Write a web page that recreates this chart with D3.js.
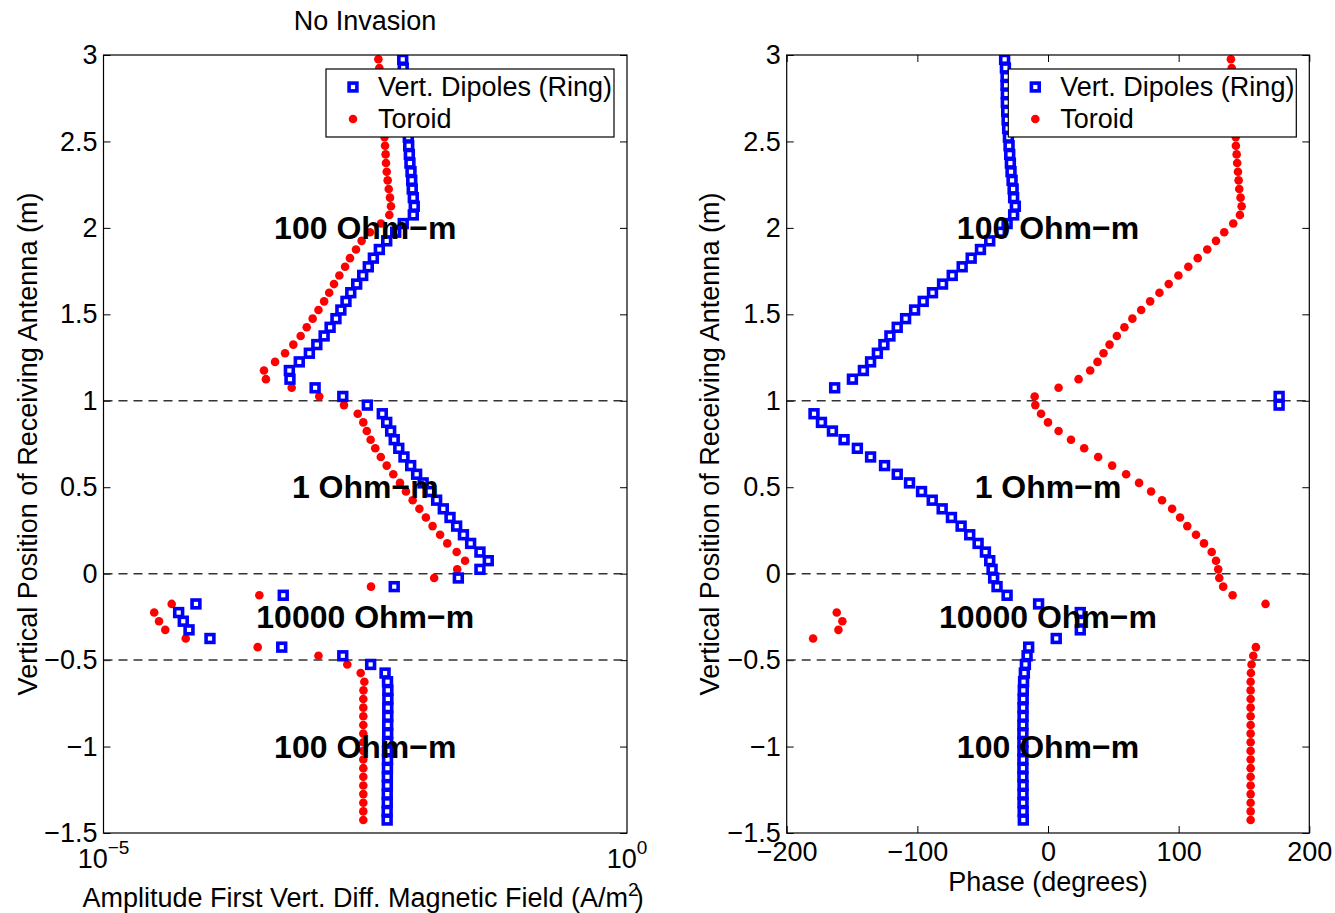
<!DOCTYPE html>
<html>
<head>
<meta charset="utf-8">
<script src="https://cdn.jsdelivr.net/npm/d3@7"></script>
<style>
  body { margin: 0; background: #fff; }
  svg { display: block; font-family: "Liberation Sans", Arial, Helvetica, sans-serif; }
</style>
</head>
<body>
<svg id="chart" width="1335" height="913"></svg>
<script>
// receiver positions (m)
const depths = [2.975, 2.925, 2.875, 2.825, 2.775, 2.725, 2.675, 2.625, 2.575, 2.525,
  2.475, 2.425, 2.375, 2.325, 2.275, 2.225, 2.175, 2.125, 2.075, 2.025,
  1.975, 1.925, 1.875, 1.825, 1.775, 1.725, 1.675, 1.625, 1.575, 1.525,
  1.475, 1.425, 1.375, 1.325, 1.275, 1.225, 1.175, 1.125, 1.075, 1.025,
  0.975, 0.925, 0.875, 0.825, 0.775, 0.725, 0.675, 0.625, 0.575, 0.525,
  0.475, 0.425, 0.375, 0.325, 0.275, 0.225, 0.175, 0.125, 0.075, 0.025,
  -0.025, -0.075, -0.125, -0.175, -0.225, -0.275, -0.325, -0.375, -0.425, -0.475,
  -0.525, -0.575, -0.625, -0.675, -0.725, -0.775, -0.825, -0.875, -0.925, -0.975,
  -1.025, -1.075, -1.125, -1.175, -1.225, -1.275, -1.325, -1.375, -1.425];

// amplitude (A/m^2)
const ringAmp = [7.21e-3, 7.29e-3, 7.41e-3, 7.53e-3, 7.64e-3, 7.74e-3, 7.87e-3, 7.98e-3, 8.09e-3, 8.15e-3,
  8.22e-3, 8.34e-3, 8.45e-3, 8.65e-3, 8.79e-3, 8.89e-3, 9.10e-3, 9.29e-3, 9.10e-3, 7.29e-3,
  6.18e-3, 5.07e-3, 4.31e-3, 3.78e-3, 3.38e-3, 2.99e-3, 2.62e-3, 2.30e-3, 2.07e-3, 1.85e-3,
  1.66e-3, 1.46e-3, 1.28e-3, 1.09e-3, 9.25e-4, 7.41e-4, 5.96e-4, 6.04e-4, 1.05e-3, 1.93e-3,
  3.31e-3, 4.60e-3, 5.07e-3, 5.53e-3, 5.98e-3, 6.61e-3, 7.41e-3, 8.59e-3, 9.79e-3, 1.13e-2,
  1.31e-2, 1.52e-2, 1.76e-2, 2.04e-2, 2.36e-2, 2.74e-2, 3.21e-2, 3.94e-2, 4.73e-2, 3.94e-2,
  2.45e-2, 5.98e-3, 5.21e-4, 7.64e-5, 5.22e-5, 5.78e-5, 6.56e-5, 1.04e-4, 5.04e-4, 1.93e-3,
  3.56e-3, 4.89e-3, 5.16e-3, 5.20e-3, 5.20e-3, 5.19e-3, 5.19e-3, 5.18e-3, 5.18e-3, 5.17e-3,
  5.16e-3, 5.16e-3, 5.15e-3, 5.14e-3, 5.14e-3, 5.13e-3, 5.13e-3, 5.12e-3, 5.12e-3];

const toroidAmp = [4.22e-3, 4.31e-3, 4.38e-3, 4.47e-3, 4.57e-3, 4.62e-3, 4.68e-3, 4.72e-3, 4.78e-3, 4.83e-3,
  4.89e-3, 4.95e-3, 4.99e-3, 5.07e-3, 5.18e-3, 5.30e-3, 5.45e-3, 5.57e-3, 5.37e-3, 4.47e-3,
  3.51e-3, 2.92e-3, 2.58e-3, 2.26e-3, 2.03e-3, 1.79e-3, 1.59e-3, 1.43e-3, 1.28e-3, 1.13e-3,
  9.95e-4, 8.73e-4, 7.64e-4, 6.50e-4, 5.42e-4, 4.35e-4, 3.41e-4, 3.56e-4, 6.27e-4, 1.15e-3,
  1.98e-3, 2.68e-3, 3.03e-3, 3.27e-3, 3.56e-3, 3.94e-3, 4.45e-3, 5.07e-3, 5.86e-3, 6.79e-3,
  7.74e-3, 8.97e-3, 1.04e-2, 1.20e-2, 1.39e-2, 1.64e-2, 1.92e-2, 2.36e-2, 2.84e-2, 2.39e-2,
  1.44e-2, 3.59e-3, 3.08e-4, 4.48e-5, 3.05e-5, 3.39e-5, 3.89e-5, 6.10e-5, 2.97e-4, 1.13e-3,
  2.13e-3, 2.86e-3, 3.10e-3, 3.04e-3, 3.03e-3, 3.03e-3, 3.03e-3, 3.03e-3, 3.03e-3, 3.03e-3,
  3.03e-3, 3.03e-3, 3.03e-3, 3.03e-3, 3.03e-3, 3.03e-3, 3.03e-3, 3.03e-3, 3.03e-3];

// phase (degrees)
const ringPhase = [-33.2, -32.6, -32.1, -32.1, -31.9, -31.9, -31.6, -31.3, -30.9, -30.3,
  -29.8, -29.3, -28.8, -28.3, -27.5, -26.7, -26.3, -25.0, -26.3, -31.3,
  -36.4, -44.6, -51.7, -58.8, -65.7, -73.3, -80.7, -88.4, -95.5, -102.1,
  -109.0, -115.4, -121.0, -125.6, -130.6, -135.8, -141.3, -149.7, -163.3, 176.9,
  176.9, -179.1, -173.4, -165.0, -156.1, -145.9, -135.8, -125.1, -115.4, -106.0,
  -96.8, -88.6, -81.0, -73.9, -66.5, -59.9, -53.5, -47.9, -44.6, -42.8,
  -41.6, -39.0, -31.3, -7.2, 24.7, 25.4, 24.7, 6.3, -14.8, -16.0,
  -17.3, -18.1, -18.7, -18.9, -19.0, -19.1, -19.1, -19.2, -19.2, -19.2,
  -19.2, -19.2, -19.2, -19.2, -19.1, -19.1, -19.1, -19.0, -18.9];

const toroidPhase = [140.0, 140.6, 141.2, 141.6, 142.0, 142.4, 142.8, 143.1, 143.4, 143.7,
  143.8, 144.4, 144.8, 145.4, 145.9, 146.4, 147.4, 148.2, 146.9, 141.8,
  134.9, 128.6, 121.9, 114.6, 107.4, 99.8, 92.4, 85.3, 78.2, 71.3,
  64.6, 58.5, 52.7, 47.1, 42.5, 37.9, 32.3, 23.4, 8.1, -10.2,
  -9.7, -5.3, 0.0, 8.1, 17.6, 27.7, 38.4, 49.1, 59.8, 69.7,
  78.9, 87.3, 95.0, 101.1, 106.6, 113.3, 119.4, 125.3, 128.6, 130.3,
  131.1, 134.1, 141.3, 166.5, -161.7, -157.4, -160.4, -179.8, 159.1, 157.1,
  155.8, 155.3, 155.1, 155.1, 155.1, 155.1, 155.1, 155.1, 155.1, 155.1,
  155.1, 155.1, 155.1, 155.1, 155.1, 155.1, 155.1, 155.1, 155.1];

// layer boundaries and layer labels
const boundaries = [1, 0, -0.5];
const layerLabels = ["100 Ohm−m", "1 Ohm−m", "10000 Ohm−m", "100 Ohm−m"];
const layerLabelDepths = [2, 0.5, -0.25, -1];

const yTicks = [-1.5, -1, -0.5, 0, 0.5, 1, 1.5, 2, 2.5, 3];
const phaseTicks = [-200, -100, 0, 100, 200];
const ampTickExponents = [-5, 0];
const seriesNames = ["Vert. Dipoles (Ring)", "Toroid"];

const svg = d3.select("#chart");
const FONT = 27;
const TOP = 55, BOTTOM = 833;
const minus = (s) => String(s).replace("-", "−");

const y = d3.scaleLinear().domain([-1.5, 3]).range([BOTTOM, TOP]);

/**
 * Draws one panel: frame, ticks, boundaries, markers, layer text, legend
 */
function drawPanel(x, ringVals, toroidVals, labelX, opts) {
  const [x0, x1] = x.range();
  const g = svg.append("g");

  // clip to the axes box
  const clipId = "clip-" + opts.name;
  g.append("clipPath").attr("id", clipId)
    .append("rect").attr("x", x0).attr("y", TOP)
    .attr("width", x1 - x0).attr("height", BOTTOM - TOP);

  // y axis on both sides, ticks inward
  g.append("g").attr("transform", `translate(${x0},0)`)
    .call(d3.axisLeft(y).tickValues(yTicks).tickSizeInner(-7).tickSizeOuter(0)
      .tickPadding(6).tickFormat(minus));
  g.append("g").attr("transform", `translate(${x1},0)`)
    .call(d3.axisRight(y).tickValues(yTicks).tickSizeInner(-7).tickSizeOuter(0)
      .tickFormat(""));

  if (opts.xTicks) {
    g.append("g").attr("transform", `translate(0,${BOTTOM})`)
      .call(d3.axisBottom(x).tickValues(opts.xTicks).tickSizeInner(-7).tickSizeOuter(0)
        .tickPadding(9).tickFormat(minus));
    g.append("g").attr("transform", `translate(0,${TOP})`)
      .call(d3.axisTop(x).tickValues(opts.xTicks).tickSizeInner(-7).tickSizeOuter(0)
        .tickFormat(""));
  }

  g.selectAll(".domain").remove();
  g.selectAll(".tick line").attr("stroke", "#000");
  g.selectAll(".tick text").attr("font-size", FONT).attr("fill", "#000")
    .attr("font-family", "Liberation Sans, Arial, sans-serif");

  // layer boundaries
  g.selectAll(".boundary").data(boundaries).join("line")
    .attr("x1", x0).attr("x2", x1)
    .attr("y1", (d) => y(d)).attr("y2", (d) => y(d))
    .attr("stroke", "#333").attr("stroke-width", 1.5)
    .attr("stroke-dasharray", "9,6");

  const marks = g.append("g").attr("clip-path", `url(#${clipId})`);

  // toroid: red dots
  marks.selectAll(".toroid").data(toroidVals).join("circle")
    .attr("cx", (d) => x(d)).attr("cy", (d, i) => y(depths[i]))
    .attr("r", 4.3).attr("fill", "#ff0000");

  // ring: blue open squares
  marks.selectAll(".ring").data(ringVals).join("rect")
    .attr("x", (d) => x(d) - 3.9).attr("y", (d, i) => y(depths[i]) - 3.9)
    .attr("width", 7.8).attr("height", 7.8)
    .attr("fill", "#fff").attr("stroke", "#0000ff").attr("stroke-width", 3.6);

  // layer labels
  g.selectAll(".layer").data(layerLabels).join("text")
    .attr("x", labelX).attr("y", (d, i) => y(layerLabelDepths[i]))
    .attr("text-anchor", "middle").attr("dy", "0.35em")
    .attr("font-size", 32).attr("font-weight", "bold")
    .text((d) => d);

  // frame
  g.append("rect").attr("x", x0).attr("y", TOP)
    .attr("width", x1 - x0).attr("height", BOTTOM - TOP)
    .attr("fill", "none").attr("stroke", "#000").attr("stroke-width", 1.2);

  // y label
  g.append("text")
    .attr("transform", `translate(${opts.yLabelX},${(TOP + BOTTOM) / 2}) rotate(-90)`)
    .attr("text-anchor", "middle").attr("dy", "0.35em")
    .attr("font-size", FONT).text("Vertical Position of Receiving Antenna (m)");

  // legend
  const lx = x1 - 301, ly = 69;
  const leg = g.append("g");
  leg.append("rect").attr("x", lx).attr("y", ly).attr("width", 288).attr("height", 68)
    .attr("fill", "#fff").attr("stroke", "#000").attr("stroke-width", 1.2);
  leg.append("rect").attr("x", lx + 27 - 3.9).attr("y", ly + 18 - 3.9)
    .attr("width", 7.8).attr("height", 7.8)
    .attr("fill", "#fff").attr("stroke", "#0000ff").attr("stroke-width", 3.6);
  leg.append("circle").attr("cx", lx + 27).attr("cy", ly + 50).attr("r", 4.3)
    .attr("fill", "#ff0000");
  leg.selectAll(".lt").data(seriesNames).join("text")
    .attr("x", lx + 52).attr("y", (d, i) => ly + 18 + i * 32).attr("dy", "0.35em")
    .attr("font-size", FONT).text((d) => d);

  return g;
}

// left: amplitude (log scale)
const xAmp = d3.scaleLog().domain([1e-5, 1]).range([103.5, 627]);
const left = drawPanel(xAmp, ringAmp, toroidAmp, xAmp(10 ** -2.5), {
  name: "amp", yLabelX: 28
});

// log tick labels 10^n
left.selectAll(".pow").data(ampTickExponents).join("text")
  .attr("x", (d) => xAmp(10 ** d)).attr("y", 868)
  .attr("text-anchor", "middle").attr("font-size", FONT)
  .each(function (d) {
    const t = d3.select(this);
    t.append("tspan").text("10");
    t.append("tspan").attr("dy", -14).attr("font-size", 19).text(minus(d));
  });

const ampLabel = left.append("text").attr("x", 363).attr("y", 907)
  .attr("text-anchor", "middle").attr("font-size", FONT);
ampLabel.append("tspan").text("Amplitude First Vert. Diff. Magnetic Field (A/m");
ampLabel.append("tspan").attr("dy", -11).attr("font-size", 19).text("2");
ampLabel.append("tspan").attr("dy", 11).attr("dx", -4).text(")");

left.append("text").attr("x", 365).attr("y", 30)
  .attr("text-anchor", "middle").attr("font-size", FONT).text("No Invasion");

// right: phase
const xPhase = d3.scaleLinear().domain([-200, 200]).range([786.7, 1309.3]);
const right = drawPanel(xPhase, ringPhase, toroidPhase, xPhase(0), {
  name: "phase", yLabelX: 710, xTicks: phaseTicks
});

right.append("text").attr("x", xPhase(0)).attr("y", 891)
  .attr("text-anchor", "middle").attr("font-size", FONT).text("Phase (degrees)");
</script>
</body>
</html>
